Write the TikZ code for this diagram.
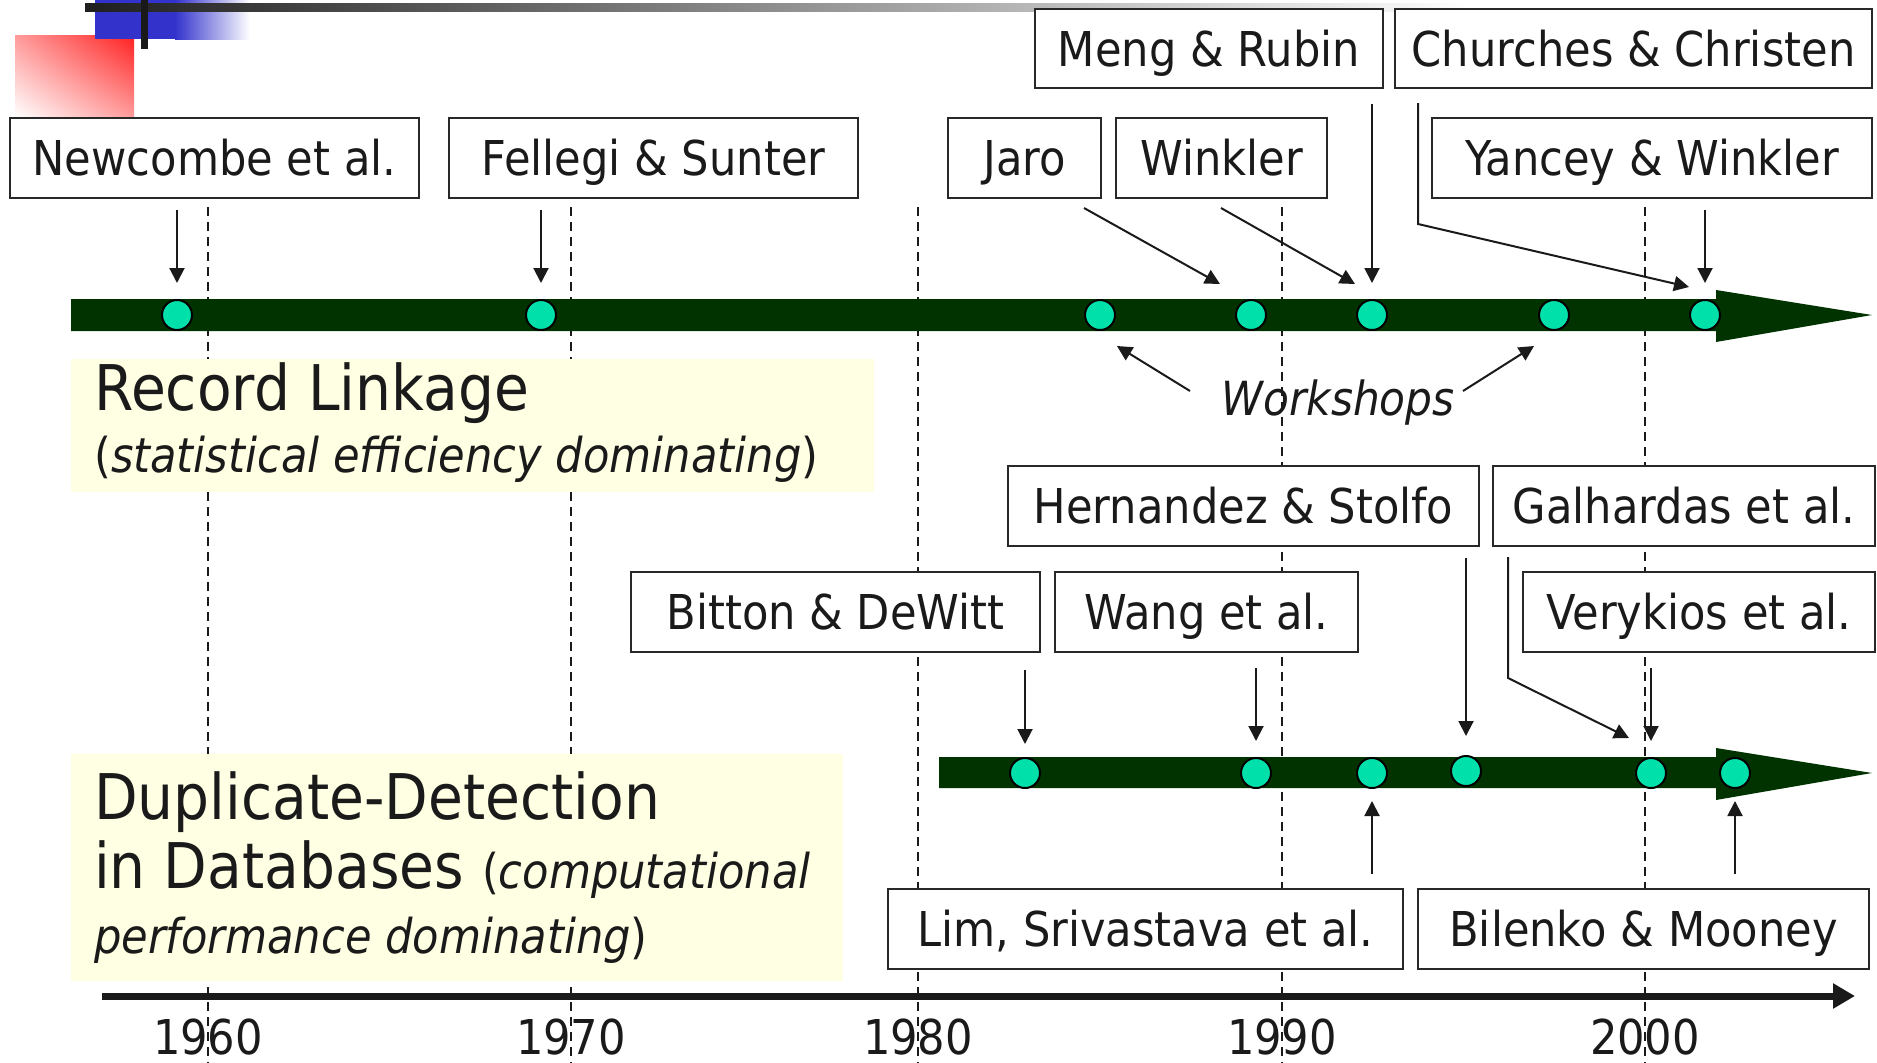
\documentclass[tikz,border=0pt]{standalone}
\usepackage{fontspec}
\setmainfont{DejaVu Sans}[FakeStretch=0.9]
\usetikzlibrary{arrows.meta,calc,shadings}

\definecolor{band}{RGB}{0,51,0}
\definecolor{dotfill}{RGB}{0,224,170}
\definecolor{boxline}{RGB}{40,40,40}
\definecolor{ink}{RGB}{26,26,26}
\definecolor{note}{RGB}{255,255,228}
\definecolor{decoblue}{RGB}{51,51,204}
\definecolor{decored}{RGB}{255,32,32}

\newcommand{\fs}[1]{\fontsize{#1}{#1}\selectfont}

\begin{document}
\begin{tikzpicture}[x=1pt,y=-1pt,
  box/.style={draw=boxline,line width=2.5pt,fill=white,inner sep=0pt,
    minimum height=80pt,text height=35pt,text depth=0pt,font=\fs{48},text=ink},
  dot/.style={circle,draw=black,line width=2pt,fill=dotfill,minimum size=30pt,inner sep=0pt},
  arr/.style={-{Triangle[length=15pt,width=15pt]},line width=2pt,draw=ink},
  yearline/.style={draw=ink,line width=2pt,dash pattern=on 9pt off 6pt},
  year/.style={anchor=base,font=\fs{48},text=ink,inner sep=0pt},
  title/.style={anchor=base west,font=\fs{63},text=ink,inner sep=0pt},
  subtitle/.style={anchor=base west,font=\fs{48},text=ink,inner sep=0pt}]

\useasboundingbox (0,0) rectangle (1877,1063);

% corner ornament
\shade[upper right=decored,lower left=white,upper left=decored!45,lower right=decored!45]
  (15,35) rectangle (134,117);
\fill[decoblue] (95,0) rectangle (175,39);
\shade[left color=decoblue,right color=white] (175,0) rectangle (250,39);
\shade[left color=black!88,right color=white] (85,3) rectangle (1470,11);
\fill[black!90] (141,0) rectangle (148,49);

% decade guide lines
\foreach \x in {208,571,918,1282,1645}
  \draw[yearline] (\x,207) -- (\x,1063);

% shaded captions
\fill[note] (71,359) rectangle (874,492);
\fill[note] (71,754) rectangle (843,981);
\node[title] (rl) at (94,410) {Record Linkage};
\node[subtitle] (rlsub) at (94,472) {(\textit{statistical efficiency dominating})};
\node[title] (dd1) at (94,819) {Duplicate-Detection};
\node[title] (dd2) at (94,888) {in Databases {\fs{48}(\textit{computational}}};
\node[subtitle] (dd3) at (94,953) {\textit{performance dominating})};

% timelines
\fill[band] (71,299) -- (1716,299) -- (1716,290) -- (1872,315) -- (1716,342) -- (1716,331) -- (71,331) -- cycle;
\fill[band] (939,757) -- (1716,757) -- (1716,748) -- (1872,773) -- (1716,800) -- (1716,788) -- (939,788) -- cycle;

% events: record linkage
\node[dot] (t1) at (177,315) {};
\node[dot] (t2) at (541,315) {};
\node[dot] (t3) at (1100,315) {};
\node[dot] (t4) at (1251,315) {};
\node[dot] (t5) at (1372,315) {};
\node[dot] (t6) at (1554,315) {};
\node[dot] (t7) at (1705,315) {};

% events: duplicate detection
\node[dot] (b1) at (1025,773) {};
\node[dot] (b2) at (1256,773) {};
\node[dot] (b3) at (1372,773) {};
\node[dot] (b4) at (1466,771) {};
\node[dot] (b5) at (1651,773) {};
\node[dot] (b6) at (1735,773) {};

% publications
\node[box,minimum width=409pt,minimum height=80pt] (newc) at (214.5,158) {Newcombe et al.};
\node[box,minimum width=409pt] (fell) at (653.5,158) {Fellegi \& Sunter};
\node[box,minimum width=153pt] (jaro) at (1024.5,158) {Jaro};
\node[box,minimum width=211pt] (wink) at (1221.5,158) {Winkler};
\node[box,minimum width=440pt] (yanc) at (1652,158) {Yancey \& Winkler};
\node[box,minimum width=348pt,minimum height=79pt] (meng) at (1209,48.5) {Meng \& Rubin};
\node[box,minimum width=477pt,minimum height=79pt] (chur) at (1633.5,48.5) {Churches \& Christen};
\node[box,minimum width=471pt] (hern) at (1243.5,506) {Hernandez \& Stolfo};
\node[box,minimum width=382pt] (galh) at (1684,506) {Galhardas et al.};
\node[box,minimum width=409pt] (bitt) at (835.5,612) {Bitton \& DeWitt};
\node[box,minimum width=303pt] (wang) at (1206.5,612) {Wang et al.};
\node[box,minimum width=352pt] (very) at (1699,612) {Verykios et al.};
\node[box,minimum width=515pt] (lim) at (1145.5,929) {Lim, Srivastava et al.};
\node[box,minimum width=451pt] (bile) at (1643.5,929) {Bilenko \& Mooney};

\node[anchor=base,font=\fs{47}\itshape,text=ink,inner sep=0pt] (ws) at (1338,415) {Workshops};

% free ends of the slanted connectors
\coordinate (jaroS) at (1084,208);
\coordinate (jaroE) at (1220,284);
\coordinate (winkS) at (1221,208);
\coordinate (winkE) at (1355,284);
\coordinate (churS) at (1418,103);
\coordinate (churK) at (1418,224);
\coordinate (churE) at (1689,287);
\coordinate (galhS) at (1508,557);
\coordinate (galhK) at (1508,678);
\coordinate (galhE) at (1629,738);
\coordinate (wsLS) at (1190,391);
\coordinate (wsLE) at (1117,346);
\coordinate (wsRS) at (1463,391);
\coordinate (wsRE) at (1534,346);

% connectors: record linkage
\draw[arr,shorten <=11pt,shorten >=16pt] (newc.south -| t1) -- (t1);
\draw[arr,shorten <=11pt,shorten >=16pt] (fell.south -| t2) -- (t2);
\draw[arr] (jaroS) -- (jaroE);
\draw[arr] (winkS) -- (winkE);
\draw[arr,shorten <=15pt,shorten >=16pt] (meng.south -| t5) -- (t5);
\draw[arr] (churS) -- (churK) -- (churE);
\draw[arr,shorten <=11pt,shorten >=16pt] (yanc.south -| t7) -- (t7);
\draw[arr] (wsLS) -- (wsLE);
\draw[arr] (wsRS) -- (wsRE);

% connectors: duplicate detection
\draw[arr,shorten <=17pt,shorten >=13pt] (bitt.south -| b1) -- (b1);
\draw[arr,shorten <=15pt,shorten >=16pt] (wang.south -| b2) -- (b2);
\draw[arr,shorten <=11pt,shorten >=19pt] (hern.south -| b4) -- (b4);
\draw[arr] (galhS) -- (galhK) -- (galhE);
\draw[arr,shorten <=15pt,shorten >=16pt] (very.south -| b5) -- (b5);
\draw[arr,shorten <=14pt,shorten >=12pt] (lim.north -| b3) -- (b3);
\draw[arr,shorten <=14pt,shorten >=12pt] (bile.north -| b6) -- (b6);

% time axis
\coordinate (axS) at (102,996);
\coordinate (axE) at (1855,996);
\draw[line width=7pt,draw=ink,-{Triangle[length=22pt,width=24pt]}] (axS) -- (axE);
\node[year] (y1960) at (208,1054) {1960};
\node[year] (y1970) at (571,1054) {1970};
\node[year] (y1980) at (918,1054) {1980};
\node[year] (y1990) at (1282,1054) {1990};
\node[year] (y2000) at (1645,1054) {2000};
\end{tikzpicture}
\end{document}
